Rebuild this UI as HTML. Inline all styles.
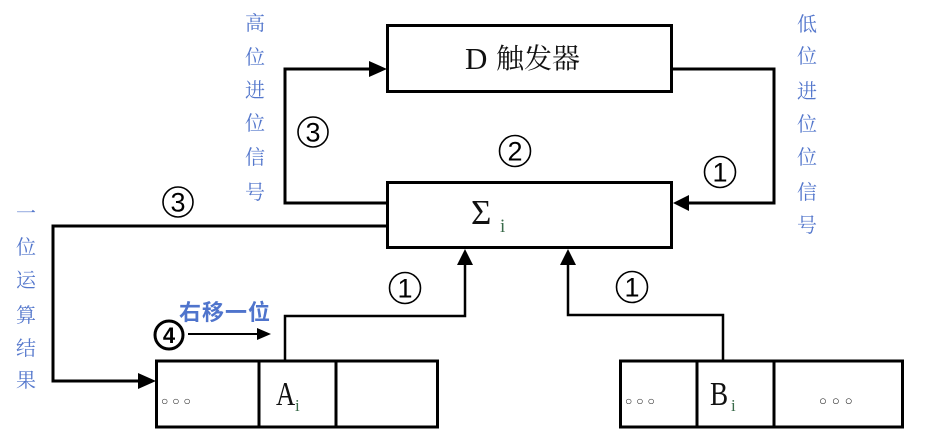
<!DOCTYPE html>
<html><head><meta charset="utf-8"><style>
html,body{margin:0;padding:0;background:#fff;}
svg{display:block;}
.cjk{font-family:"Noto Serif CJK SC","WenQuanYi Zen Hei",serif;}
.blue{fill:#5477cc;font-family:"Noto Serif CJK SC",serif;font-size:20px;}
.num{font-family:"Liberation Sans",sans-serif;font-size:27px;fill:#000;}
</style></head><body>
<svg width="927" height="438" viewBox="0 0 927 438" xmlns="http://www.w3.org/2000/svg">
<rect width="927" height="438" fill="#fff"/>
<!-- D flip flop box -->
<rect x="387.5" y="25.5" width="284" height="66" fill="none" stroke="#000" stroke-width="3"/>
<text x="465" y="69" font-family="Liberation Serif, serif" font-size="31" fill="#111">D</text>
<text x="496" y="68" class="cjk" font-size="28" fill="#111">触发器</text>
<!-- Sigma box -->
<rect x="387.5" y="182.5" width="284" height="65" fill="none" stroke="#000" stroke-width="3"/>
<text x="471" y="224" font-family="Liberation Serif, serif" font-size="35" fill="#111">Σ</text>
<text x="500" y="232" font-family="Liberation Serif, serif" font-size="19" fill="#3a6b4a">i</text>

<!-- high carry loop -->
<polyline points="387,203 285,203 285,69 372,69" fill="none" stroke="#000" stroke-width="3"/>
<polygon points="387,69 369,61 369,77" fill="#000"/>
<!-- low carry loop -->
<polyline points="672,69 774,69 774,203 688,203" fill="none" stroke="#000" stroke-width="3"/>
<polygon points="673,203 689,195 689,211" fill="#000"/>
<!-- result loop -->
<polyline points="387,226 53,226 53,381 140,381" fill="none" stroke="#000" stroke-width="3"/>
<polygon points="156,381 138,373 138,389" fill="#000"/>

<!-- A to sigma -->
<polyline points="285,360 285,316 465,316 465,262" fill="none" stroke="#000" stroke-width="2.5"/>
<polygon points="465,249 457,265 473,265" fill="#000"/>
<!-- B to sigma -->
<polyline points="723,360 723,315 568,315 568,262" fill="none" stroke="#000" stroke-width="2.5"/>
<polygon points="568,249 560,265 576,265" fill="#000"/>

<!-- shift arrow -->
<line x1="188" y1="334" x2="258" y2="334" stroke="#000" stroke-width="2"/>
<polygon points="271,334 257,328 257,340" fill="#000"/>

<!-- A register -->
<rect x="156.5" y="361" width="281" height="66" fill="none" stroke="#000" stroke-width="3"/>
<line x1="259" y1="361" x2="259" y2="427" stroke="#000" stroke-width="3"/>
<line x1="336" y1="361" x2="336" y2="427" stroke="#000" stroke-width="3"/>
<text x="161" y="405" font-family="Liberation Sans,sans-serif" font-size="12" fill="#222" letter-spacing="4">○○○</text>
<text transform="translate(276,405) scale(0.78,1)" font-family="Liberation Serif, serif" font-size="34" fill="#111">A</text>
<text x="295" y="411" font-family="Liberation Serif, serif" font-size="17" fill="#3a6b4a">i</text>

<!-- B register -->
<rect x="620.5" y="361" width="282" height="66" fill="none" stroke="#000" stroke-width="3"/>
<line x1="697" y1="361" x2="697" y2="427" stroke="#000" stroke-width="3"/>
<line x1="774" y1="361" x2="774" y2="427" stroke="#000" stroke-width="3"/>
<text x="625" y="405" font-family="Liberation Sans,sans-serif" font-size="12" fill="#222" letter-spacing="4">○○○</text>
<text x="819" y="405" font-family="Liberation Sans,sans-serif" font-size="13" fill="#222" letter-spacing="5">○○○</text>
<text transform="translate(710,405) scale(0.8,1)" font-family="Liberation Serif, serif" font-size="34" fill="#111">B</text>
<text x="731" y="411" font-family="Liberation Serif, serif" font-size="17" fill="#3a6b4a">i</text>

<!-- circled numbers -->
<g fill="none" stroke="#000" stroke-width="1.6">
<circle cx="313" cy="132" r="15"/>
<circle cx="515" cy="151" r="15.5"/>
<circle cx="720" cy="172" r="15.5"/>
<circle cx="178" cy="202" r="15"/>
<circle cx="405" cy="288" r="15.5"/>
<circle cx="632" cy="287" r="15.5"/>
</g>
<circle cx="169" cy="335" r="14" fill="none" stroke="#000" stroke-width="3"/>
<text class="num" x="313" y="141.5" text-anchor="middle">3</text>
<text class="num" x="515" y="160.5" text-anchor="middle">2</text>
<text class="num" x="720" y="181.5" text-anchor="middle">1</text>
<text class="num" x="178" y="211.5" text-anchor="middle">3</text>
<text class="num" x="405" y="297.5" text-anchor="middle">1</text>
<text class="num" x="632" y="296.5" text-anchor="middle">1</text>
<text x="169" y="343" text-anchor="middle" font-family="Liberation Sans,sans-serif" font-size="22" font-weight="bold" fill="#000">4</text>

<!-- blue labels -->
<g class="blue" text-anchor="middle">
<text x="255" y="30">高</text>
<text x="255" y="64">位</text>
<text x="255" y="97">进</text>
<text x="255" y="130">位</text>
<text x="255" y="164">信</text>
<text x="255" y="199">号</text>

<text x="807" y="31">低</text>
<text x="807" y="63">位</text>
<text x="807" y="98">进</text>
<text x="807" y="131">位</text>
<text x="807" y="164">位</text>
<text x="807" y="199">信</text>
<text x="807" y="232">号</text>

<text x="26" y="220">一</text>
<text x="26" y="254">位</text>
<text x="26" y="287">运</text>
<text x="26" y="322">算</text>
<text x="26" y="355">结</text>
<text x="26" y="387">果</text>
</g>
<text x="179" y="320" font-family="'Noto Sans CJK SC',sans-serif" font-size="22" font-weight="bold" fill="#4f74cc" letter-spacing="1">右移一位</text>
</svg>
</body></html>
